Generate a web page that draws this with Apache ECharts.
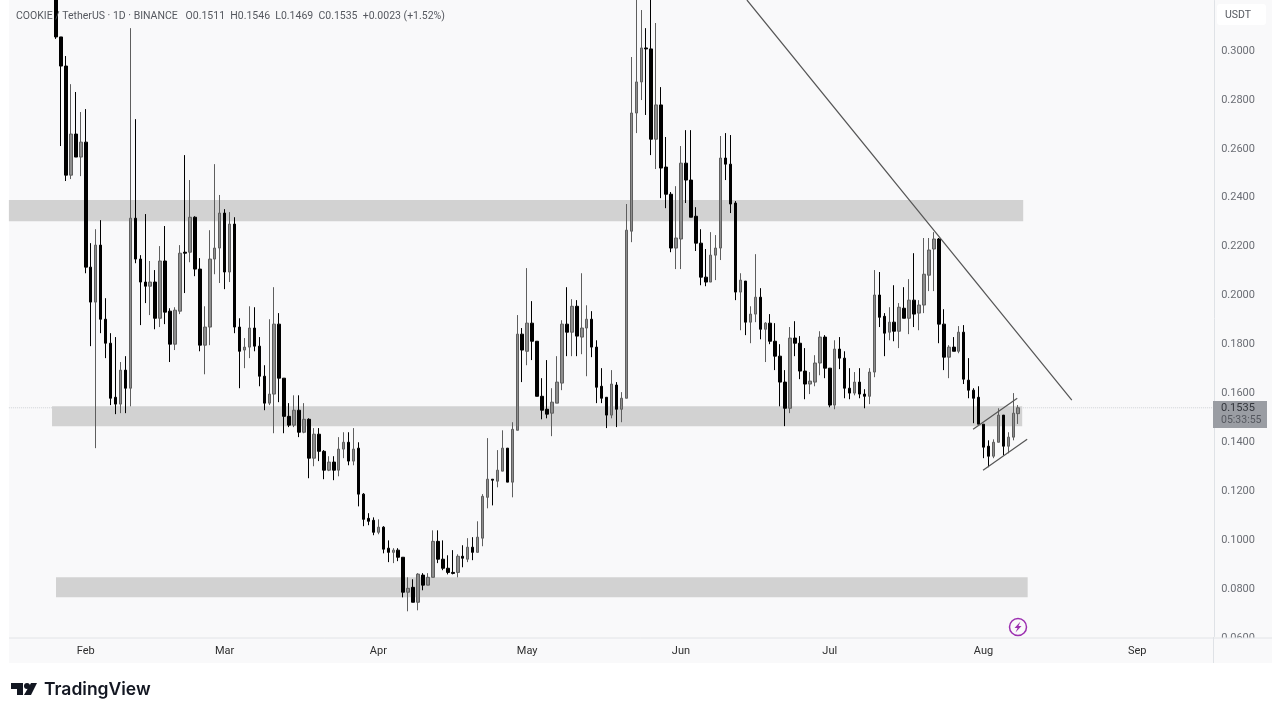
<!DOCTYPE html>
<html>
<head>
<meta charset="utf-8">
<title>COOKIE / TetherUS</title>
<style>
  html, body { margin: 0; padding: 0; background: #fff; }
  #chart { width: 1280px; height: 716px; }
</style>
<script src="https://cdn.jsdelivr.net/npm/echarts@6/dist/echarts.min.js"></script>
</head>
<body>
<div id="chart"></div>
<script>
// daily candles, first one is Jan 26, last one is Aug 8
var opens = [
  .3304,.3051,.2932,.2486,.2654,.2560,.2621,.2110,.1967,.2200,
  .1897,.1799,.1578,.1550,.1689,.1615,.2310,.2143,.2049,.2032,
  .2049,.1901,.2135,.1930,.1795,.1930,.2171,.2171,.2314,.2102,
  .1791,.1865,.2143,.2188,.2331,.2090,.2286,.1865,.1771,.1783,
  .1861,.1787,.1664,.1554,.1591,.1877,.1656,.1500,.1464,.1525,
  .1435,.1488,.1329,.1427,.1357,.1280,.1313,.1280,.1366,.1394,
  .1317,.1370,.1182,.1083,.1075,.1026,.1047,.0961,.0944,.0953,
  .0924,.0781,.0801,.0740,.0851,.0810,.0842,.0989,.0916,.0879,
  .0862,.0862,.0928,.0916,.0965,.0944,.1002,.1169,.1243,.1235,
  .1276,.1370,.1231,.1443,.1836,.1766,.1881,.1807,.1582,.1529,
  .1513,.1554,.1636,.1877,.1844,.1950,.1824,.1861,.1897,.1783,
  .1623,.1578,.1505,.1628,.1529,.1574,.2257,.2740,.2867,.3006,
  .3002,.2633,.2773,.2519,.2408,.2188,.2225,.2535,.2466,.2318,
  .2208,.2069,.2049,.2159,.2188,.2556,.2531,.2372,.2008,.2053,
  .1885,.1918,.1987,.1856,.1881,.1807,.1746,.1640,.1533,.1820,
  .1799,.1685,.1632,.1640,.1718,.1824,.1697,.1546,.1775,.1738,
  .1615,.1595,.1640,.1591,.1582,.1681,.1996,.1909,.1844,.1885,
  .1848,.1942,.1901,.1975,.1922,.1955,.2077,.2184,.2225,.1877,
  .1742,.1783,.1766,.1844,.1648,.1607,.1578,.1468,.1378,.1337,
  .1394,.1505,.1378,.1415,.1511
];
var closes = [
  .3051,.2932,.2486,.2654,.2560,.2621,.2110,.1967,.2200,.1897,
  .1799,.1574,.1550,.1689,.1615,.2310,.2143,.2049,.2032,.2049,
  .1901,.2135,.1926,.1795,.1934,.2167,.2167,.2314,.2102,.1791,
  .1865,.2143,.2188,.2331,.2090,.2286,.1865,.1766,.1783,.1861,
  .1787,.1664,.1554,.1591,.1877,.1656,.1500,.1464,.1525,.1435,
  .1488,.1329,.1427,.1357,.1280,.1313,.1280,.1366,.1394,.1317,
  .1366,.1182,.1079,.1071,.1026,.1047,.0957,.0944,.0953,.0924,
  .0781,.0797,.0740,.0855,.0810,.0842,.0989,.0916,.0879,.0862,
  .0858,.0928,.0920,.0965,.0944,.1006,.1173,.1243,.1239,.1280,
  .1370,.1231,.1447,.1836,.1771,.1881,.1807,.1582,.1525,.1509,
  .1558,.1640,.1877,.1844,.1950,.1828,.1861,.1897,.1783,.1619,
  .1574,.1505,.1632,.1529,.1574,.2261,.2740,.2867,.3006,.3002,
  .2633,.2773,.2515,.2408,.2188,.2229,.2535,.2466,.2314,.2208,
  .2069,.2049,.2159,.2188,.2556,.2531,.2368,.2008,.2057,.1885,
  .1918,.1987,.1856,.1881,.1807,.1746,.1640,.1533,.1820,.1799,
  .1685,.1632,.1644,.1718,.1824,.1697,.1546,.1775,.1738,.1615,
  .1595,.1640,.1591,.1582,.1681,.1996,.1905,.1840,.1885,.1848,
  .1946,.1901,.1975,.1918,.1955,.2081,.2180,.2225,.1877,.1742,
  .1783,.1766,.1844,.1652,.1607,.1574,.1468,.1374,.1337,.1394,
  .1505,.1378,.1415,.1513,.1535
];
var lows = [
  .3043,.2605,.2462,.2470,.2560,.2482,.2085,.1787,.1370,.1840,
  .1738,.1546,.1509,.1513,.1513,.1541,.2126,.1873,.1963,.1914,
  .1856,.1865,.1877,.1722,.1771,.1918,.2004,.2130,.2073,.1766,
  .1672,.1791,.2081,.2045,.2020,.2049,.1840,.1615,.1697,.1738,
  .1766,.1623,.1525,.1546,.1431,.1558,.1431,.1456,.1456,.1415,
  .1431,.1247,.1296,.1317,.1243,.1276,.1239,.1255,.1329,.1300,
  .1300,.1132,.1051,.1055,.1014,.1018,.0940,.0904,.0900,.0908,
  .0760,.0703,.0740,.0707,.0789,.0810,.0842,.0900,.0871,.0854,
  .0854,.0842,.0883,.0904,.0912,.0944,.0969,.1124,.1136,.1210,
  .1276,.1231,.1169,.1443,.1640,.1709,.1730,.1582,.1488,.1492,
  .1419,.1554,.1607,.1746,.1746,.1746,.1754,.1664,.1742,.1554,
  .1554,.1452,.1492,.1456,.1476,.1574,.2212,.2658,.2793,.2732,
  .2568,.2511,.2392,.2351,.2171,.2102,.2102,.2372,.2314,.2176,
  .2036,.2032,.2049,.2057,.2139,.2466,.2331,.1975,.1852,.1832,
  .1799,.1885,.1815,.1722,.1795,.1689,.1541,.1460,.1513,.1746,
  .1652,.1570,.1591,.1623,.1668,.1656,.1537,.1529,.1693,.1574,
  .1570,.1586,.1574,.1533,.1550,.1660,.1865,.1746,.1811,.1807,
  .1779,.1901,.1836,.1865,.1852,.1922,.2012,.2012,.1799,.1689,
  .1656,.1766,.1758,.1632,.1574,.1472,.1468,.1329,.1292,.1329,
  .1394,.1341,.1349,.1402,.1469
];
var highs = [
  .3325,.3051,.2973,.2858,.2826,.2744,.2756,.2208,.2265,.2302,
  .1983,.1840,.1824,.1722,.1746,.3087,.2715,.2159,.2327,.2135,
  .2098,.2196,.2278,.1942,.1946,.2200,.2568,.2466,.2318,.2147,
  .1950,.2261,.2531,.2405,.2347,.2335,.2314,.1901,.1820,.1950,
  .1946,.1824,.1709,.1897,.2028,.1922,.1656,.1554,.1586,.1586,
  .1554,.1492,.1452,.1452,.1362,.1337,.1337,.1415,.1435,.1435,
  .1452,.1394,.1186,.1104,.1087,.1079,.1051,.0993,.0961,.0961,
  .0924,.0842,.0834,.0859,.0859,.0859,.1034,.1034,.0993,.0932,
  .0953,.0936,.0973,.1002,.1006,.1071,.1182,.1411,.1243,.1362,
  .1443,.1370,.1476,.1914,.1861,.2106,.1971,.1807,.1656,.1730,
  .1615,.1746,.1893,.2028,.1979,.1975,.2085,.1954,.1930,.1811,
  .1697,.1578,.1689,.1640,.1599,.2368,.2969,.3222,.3161,.3087,
  .3222,.3108,.2846,.2642,.2417,.2441,.2605,.2670,.2670,.2355,
  .2265,.2184,.2253,.2241,.2646,.2658,.2650,.2380,.2085,.2053,
  .1950,.2163,.2024,.1885,.1918,.1881,.1795,.1689,.1865,.1889,
  .1828,.1779,.1681,.1750,.1848,.1832,.1697,.1811,.1824,.1766,
  .1697,.1681,.1697,.1611,.1697,.2098,.2090,.1922,.1946,.2036,
  .1963,.2028,.2061,.2167,.1975,.2229,.2229,.2253,.2229,.1938,
  .1791,.1824,.1869,.1873,.1738,.1615,.1623,.1468,.1402,.1406,
  .1533,.1505,.1435,.1595,.1546
];

// the axis shows a few empty days left of the first candle and a lot right of the last
var monthNames = ['Jan', 'Feb', 'Mar', 'Apr', 'May', 'Jun', 'Jul', 'Aug', 'Sep'];
var monthLengths = [31, 28, 31, 30, 31, 30, 31, 31, 30];
var leadDays = 9, totalDays = 243;
var categories = [];
(function () {
  var m = 0, d = 17;
  for (var i = 0; i < totalDays; i++) {
    categories.push(d === 1 ? monthNames[m] : monthNames[m] + ' ' + d);
    d++;
    if (d > monthLengths[m]) { d = 1; m++; }
  }
})();

var lastPrice = 0.1535;
// zones: [from candle index, to candle index, low price, high price]
var zoneStart = [-9.5, -0.8, 0];
var zoneEnd = [195, 194.8, 195.9];
var zoneLow = [.2298, .1460, .0760];
var zoneHigh = [.2384, .1541, .0842];
// hand drawn lines, in candle index and price
var trendX = [139.3, 204.8], trendY = [.3202, .1566];
var channelTopX = [184.9, 193.8], channelTopY = [.1447, .1574];
var channelLowX = [186.9, 195.8], channelLowY = [.1280, .1406];

var candleData = [];
for (var i = 0; i < leadDays; i++) candleData.push(['-', '-', '-', '-']);
for (var i = 0; i < opens.length; i++) candleData.push([opens[i], closes[i], lows[i], highs[i]]);

var zoneAreas = zoneStart.map(function (s, i) {
  return [{ coord: [s, zoneHigh[i]] }, { coord: [zoneEnd[i], zoneLow[i]] }];
});

function overlayLine(xs, ys) {
  return {
    type: 'line', xAxisIndex: 1, z: 3, silent: true, symbol: 'none',
    lineStyle: { color: '#555', width: 1.2 },
    data: xs.map(function (x, i) { return [x, ys[i]]; })
  };
}

var uiFont = 'Roboto, "Liberation Sans", sans-serif';
var chart = echarts.init(document.getElementById('chart'), null, { renderer: 'canvas' });

var option = {
  animation: false,
  backgroundColor: '#ffffff',
  grid: { left: 8.88, width: 1205.28, top: 0.5, height: 636, containLabel: false },
  xAxis: [{
    type: 'category',
    data: categories,
    axisTick: { show: false },
    axisLine: { show: false },
    splitLine: { show: false },
    axisLabel: {
      color: '#2e2e2e',
      fontFamily: uiFont,
      fontSize: 11,
      margin: 9,
      hideOverlap: false,
      interval: function (index, value) { return value.length === 3 && value !== 'Jan'; }
    }
  }, {
    type: 'value',
    min: -9.5,
    max: 233.5,
    show: false
  }],
  yAxis: {
    type: 'value',
    position: 'right',
    min: 0.06,
    max: 0.32,
    interval: 0.02,
    axisLine: { show: true, onZero: false, lineStyle: { color: '#dfe2e6' } },
    axisTick: { show: false },
    splitLine: { show: false },
    axisLabel: {
      color: '#6b6e75',
      fontFamily: uiFont,
      fontSize: 11,
      margin: 7,
      // nudges the text down a bit, the labels sit just under their level on the original
      rich: { p: { color: '#6b6e75', fontFamily: uiFont, fontSize: 11, padding: [3, 0, 0, 0] } },
      formatter: function (v) { return v > 0.31 ? '' : '{p|' + v.toFixed(4) + '}'; }
    }
  },
  series: [{
    type: 'line', xAxisIndex: 1, z: 1, silent: true, symbol: 'none',
    data: [],
    markArea: {
      silent: true,
      itemStyle: { color: '#d2d2d2' },
      data: zoneAreas
    }
  }, {
    type: 'line', xAxisIndex: 1, z: 1, silent: true, symbol: 'none',
    lineStyle: { color: '#d0d2d6', width: 1, type: 'dotted' },
    data: [[-9.5, lastPrice], [233.5, lastPrice]]
  }, {
    type: 'candlestick',
    z: 2,
    barWidth: 3,
    data: candleData,
    itemStyle: {
      color: '#8d8d8d',
      color0: '#000000',
      borderColor: '#5e5e5e',
      borderColor0: '#000000',
      borderWidth: 1
    }
  },
    overlayLine(trendX, trendY),
    overlayLine(channelTopX, channelTopY),
    overlayLine(channelLowX, channelLowY)
  ],
  graphic: [
    // the panel around the plot, the plot itself has the same tint
    { type: 'rect', z: -10, shape: { x: 9, y: 0, width: 1263, height: 663 }, style: { fill: '#f9f9fa' } },
    { type: 'line', z: 5, shape: { x1: 9, y1: 638, x2: 1272, y2: 638 }, style: { stroke: '#e2e4e7', lineWidth: 1 } },
    // clips the half visible 0.0600 label like on the original
    { type: 'rect', z: 4, shape: { x: 1214, y: 638, width: 58, height: 25 }, style: { fill: '#f9f9fa' } },
    { type: 'line', z: 5, shape: { x1: 1213.5, y1: 637, x2: 1213.5, y2: 663 }, style: { stroke: '#dfe2e6', lineWidth: 1 } },
    { type: 'text', z: 6, x: 16, y: 11, style: {
      text: 'COOKIE / TetherUS · 1D · BINANCE   O0.1511  H0.1546  L0.1469  C0.1535  +0.0023 (+1.52%)',
      fill: '#55585f', font: '10.5px ' + uiFont } },
    { type: 'rect', z: 5, shape: { x: 1217, y: 4, width: 49, height: 21, r: 3 }, style: { fill: '#ffffff' } },
    { type: 'text', z: 6, x: 1225, y: 10, style: { text: 'USDT', fill: '#55585f', font: '10.5px ' + uiFont } },
    { type: 'rect', z: 6, shape: { x: 1213, y: 401, width: 54, height: 27 }, style: { fill: '#9a9da3' } },
    { type: 'text', z: 7, x: 1221, y: 403, style: { text: '0.1535', fill: '#33363c', font: '11px ' + uiFont } },
    { type: 'text', z: 7, x: 1221, y: 415, style: { text: '05:33:55', fill: '#55585f', font: '10.5px ' + uiFont } },
    // lightning badge
    { type: 'circle', z: 6, shape: { cx: 1018, cy: 627, r: 8.5 }, style: { fill: '#f9f9fa', stroke: '#9c30b0', lineWidth: 1.5 } },
    { type: 'polygon', z: 7, shape: { points: [[1020.5, 621.5], [1014.5, 628], [1017.5, 628], [1015.5, 632.5], [1021.5, 626], [1018.5, 626]] }, style: { fill: '#9c30b0' } },
    // logo
    { type: 'polygon', z: 6, shape: { points: [[11, 683], [23, 683], [23, 695], [17, 695], [17, 689], [11, 689]] }, style: { fill: '#131722' } },
    { type: 'circle', z: 6, shape: { cx: 27, cy: 686, r: 3 }, style: { fill: '#131722' } },
    { type: 'polygon', z: 6, shape: { points: [[31, 683], [37, 683], [31, 695], [24, 695]] }, style: { fill: '#131722' } },
    { type: 'text', z: 6, x: 44, y: 681, style: { text: 'TradingView', fill: '#131722', font: '600 17.5px Inter, Roboto, sans-serif' } }
  ]
};

chart.setOption(option);
</script>
</body>
</html>
